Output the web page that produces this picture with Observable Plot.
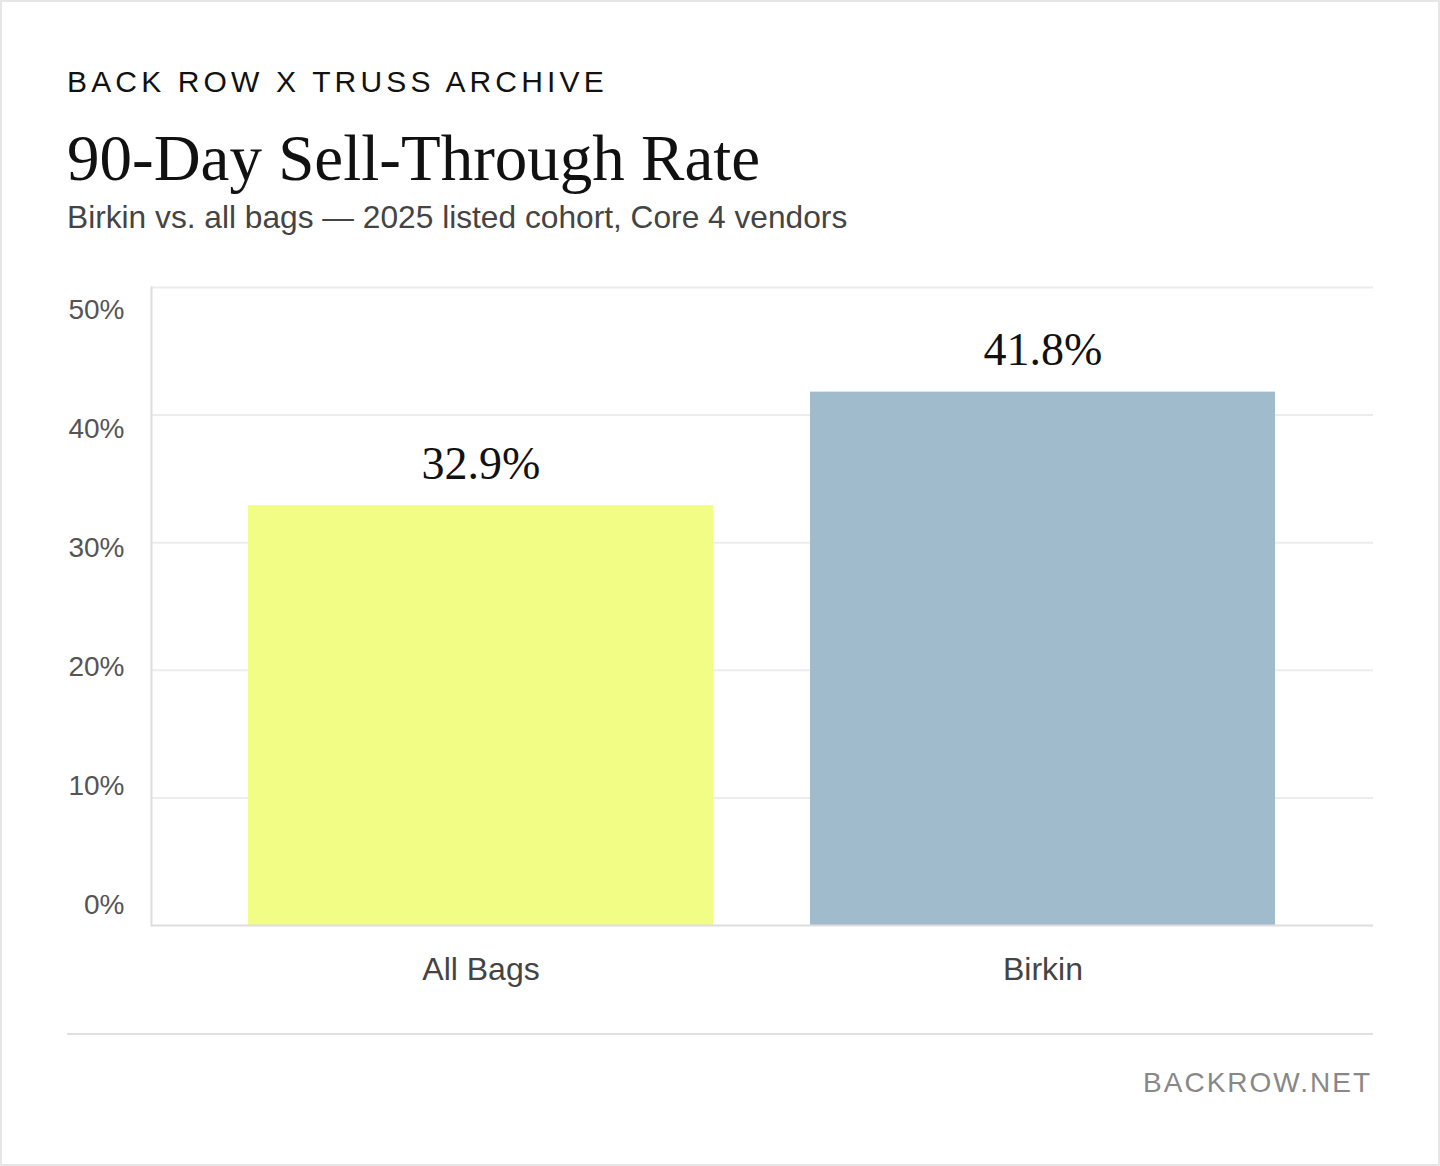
<!DOCTYPE html>
<html>
<head>
<meta charset="utf-8">
<script src="https://cdn.jsdelivr.net/npm/d3@7"></script>
<script src="https://cdn.jsdelivr.net/npm/@observablehq/plot@0.6"></script>
<style>
  html, body { margin: 0; padding: 0; background: #fff; }
  #card { position: relative; width: 1440px; height: 1166px; background: #fff; overflow: hidden; }
  #border { position: absolute; left: 0; top: 0; width: 1440px; height: 1166px; box-sizing: border-box; border: 2px solid #e6e6e6; pointer-events: none; }
  .abs { position: absolute; white-space: nowrap; line-height: 1; }
  #kicker { left: 67px; top: 65px; font: 30px "Liberation Sans", Arial, sans-serif; letter-spacing: 4.15px; color: #111; }
  #title { left: 67px; top: 121px; font: 65px "Liberation Serif", Georgia, serif; color: #111; }
  #subtitle { left: 67px; top: 199px; font: 31.7px "Liberation Sans", Arial, sans-serif; color: #444; }
  #chart { position: absolute; left: 0; top: 248px; }
  #rule { position: absolute; left: 67px; top: 1033px; width: 1306px; height: 2px; background: #e0e0e0; }
  #footer { right: 68px; top: 1067px; font: 28px "Liberation Sans", Arial, sans-serif; letter-spacing: 2px; color: #888; }
</style>
</head>
<body>
<div id="card">
  <div id="kicker" class="abs">BACK ROW X TRUSS ARCHIVE</div>
  <div id="title" class="abs">90-Day Sell-Through Rate</div>
  <div id="subtitle" class="abs">Birkin vs. all bags — 2025 listed cohort, Core 4 vendors</div>
  <div id="chart"></div>
  <div id="rule"></div>
  <div id="footer" class="abs">BACKROW.NET</div>
  <div id="border"></div>
</div>
<script>
// Data
const categories = ["All Bags", "Birkin"];
const sellThrough = [32.9, 41.8];
const barColors = ["#f2fd85", "#a0bbcb"];
const yTicks = [0, 10, 20, 30, 40, 50];

const data = categories.map((c, i) => ({category: c, value: sellThrough[i]}));

// tick labels sit slightly inside the grid spacing in the reference
const labelShift = t => 23 - (50 - t) * 0.86;

const sans = "'Liberation Sans', Arial, sans-serif";
const serif = "'Liberation Serif', Georgia, serif";

const chart = Plot.plot({
  width: 1440,
  height: 762,
  marginLeft: 151,
  marginRight: 67,
  marginTop: 39,
  marginBottom: 85,
  style: {fontFamily: sans, background: "transparent", overflow: "visible"},
  x: {domain: categories, paddingInner: 0.172, paddingOuter: 0.172, axis: null},
  y: {domain: [0, 50], axis: null},
  color: {domain: categories, range: barColors},
  marks: [
    Plot.ruleY(yTicks.filter(t => t > 0), {stroke: "#ececec", strokeWidth: 2}),
    Plot.barY(data, {x: "category", y: "value", fill: "category"}),
    Plot.frame({anchor: "left", stroke: "#dddddd", strokeWidth: 2}),
    Plot.ruleY([0], {stroke: "#dddddd", strokeWidth: 2}),
    ...yTicks.map(t => Plot.text([t], {
      y: d => d, text: d => `${d}%`, frameAnchor: "left", textAnchor: "end",
      dx: -27, dy: labelShift(t), fontSize: 28, fill: "#555", fontFamily: sans
    })),
    Plot.axisX({tickSize: 0, tickPadding: 32, fontSize: 32, color: "#444", fontFamily: sans, label: null}),
    Plot.text(data, {
      x: "category", y: "value", text: d => `${d.value.toFixed(1)}%`,
      lineAnchor: "bottom", dy: -27, fontSize: 46, fill: "#111", fontFamily: serif
    })
  ]
});
document.getElementById("chart").appendChild(chart);
</script>
</body>
</html>
